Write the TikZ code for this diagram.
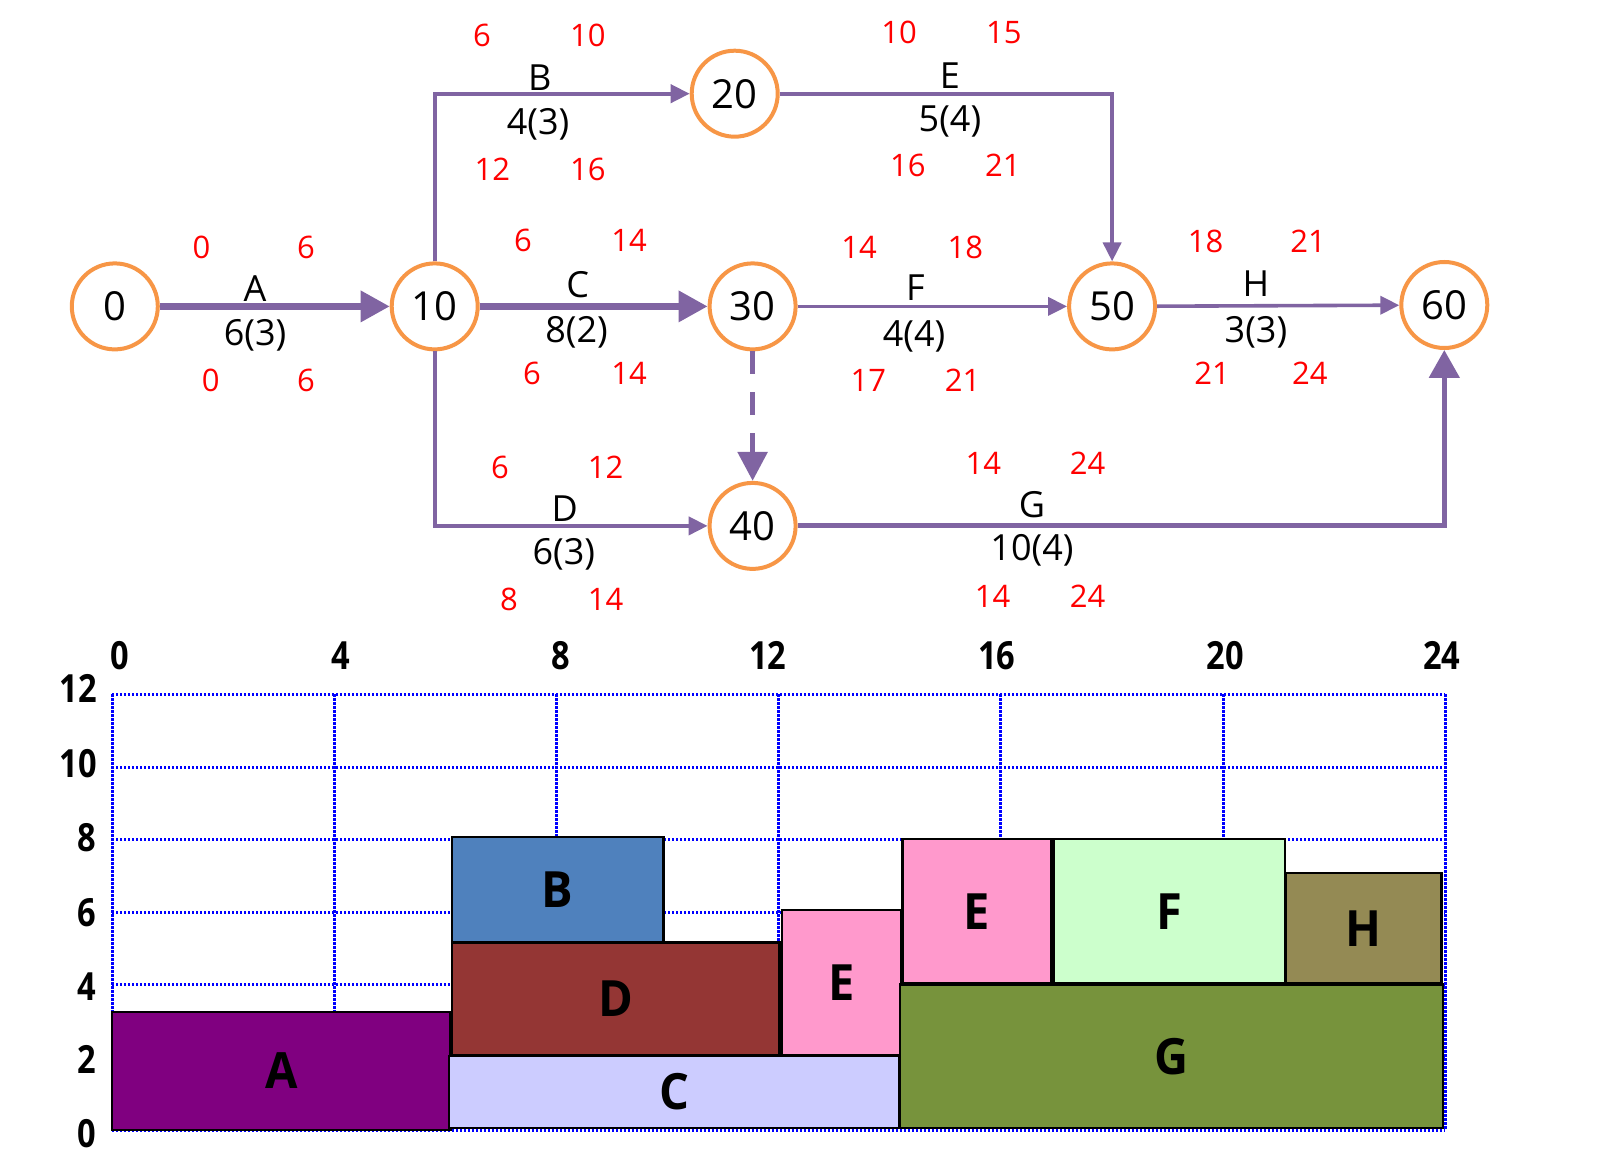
\documentclass[tikz,border=0pt]{standalone}
\usepackage{fontspec}
\setmainfont{Open Sans}
\newfontfamily\condbold[FakeStretch=0.84]{Open Sans}
\newfontfamily\barbold[FakeStretch=0.94]{Open Sans}
\usetikzlibrary{arrows.meta}
\definecolor{arrowpurple}{HTML}{8064A2}
\definecolor{evorange}{HTML}{F79646}
\definecolor{cA}{HTML}{800080}
\definecolor{cB}{HTML}{4F81BD}
\definecolor{cC}{HTML}{CCCCFF}
\definecolor{cD}{HTML}{943634}
\definecolor{cE}{HTML}{FF99CC}
\definecolor{cF}{HTML}{CCFFCC}
\definecolor{cG}{HTML}{77933C}
\definecolor{cH}{HTML}{948A54}
\begin{document}
\begin{tikzpicture}[x=0.5pt,y=-0.5pt,
  evt/.style={circle, draw=evorange, line width=2pt, minimum size=43pt, inner sep=0pt, fill=white, font=\fontsize{20}{24}\selectfont},
  rednum/.style={text=red, font=\fontsize{15.5}{18}\selectfont, anchor=base, inner sep=0pt},
  actlbl/.style={font=\fontsize{18}{21}\selectfont, anchor=base, inner sep=0pt},
  crit/.style={draw=arrowpurple, line width=3.25pt, -{Triangle[length=14.5pt,width=15pt]}},
  critg/.style={draw=arrowpurple, line width=2.5pt, -{Triangle[length=14pt,width=15pt]}},
  act/.style={draw=arrowpurple, line width=2pt, -{Triangle[length=9.5pt,width=9pt]}},
  actthin/.style={draw=arrowpurple, line width=1.8pt, -{Triangle[length=9.5pt,width=9pt]}},
  dummy/.style={draw=arrowpurple, line width=2.85pt, dash pattern=on 11.5pt off 9pt, -{Triangle[length=14.5pt,width=14.5pt]}},
  gridline/.style={draw=blue, line width=1.5pt, dash pattern=on 1.1pt off 0.9pt},
  bar/.style={draw=black, line width=1.25pt},
  barlbl/.style={font=\fontsize{25}{30}\barbold\bfseries, inner sep=0pt},
  axlbl/.style={font=\fontsize{19.4}{23}\condbold\bfseries, inner sep=0pt, anchor=base},
  axlbly/.style={font=\fontsize{19.4}{23}\condbold\bfseries, inner sep=0pt, anchor=base east}
]
\useasboundingbox (0,0) rectangle (1605,1176);

% ---------- network ----------
\node[evt] (n0)  at (114.8,306.4) {0};
\node[evt] (n10) at (434.7,306.4) {10};
\node[evt] (n20) at (734.7,93.7) {20};
\node[evt] (n30) at (752.6,306.4) {30};
\node[evt] (n40) at (752.6,525.9) {40};
\node[evt] (n50) at (1112.1,306.4) {50};
\node[evt] (n60) at (1444.3,305.0) {60};

\draw[crit] (n0) -- (n10);
\draw[act] (n10) |- (n20);
\draw[crit] (n10) -- (n30);
\draw[act] (n10) |- (n40);
\draw[dummy] (n30) -- (n40);
\draw[act] (n20) -| (n50);
\draw[actthin] (n30) -- (n50);
\draw[actthin] (n50) -- (n60);
\draw[critg] (n40) -| (n60);

% activity labels
\node[actlbl] (lA)  at (255,301.6) {A};
\node[actlbl] (dA)  at (255,346) {6(3)};
\node[actlbl] (lB)  at (539.8,90.1) {B};
\node[actlbl] (dB)  at (538,134.4) {4(3)};
\node[actlbl] (lC)  at (577.6,297.7) {C};
\node[actlbl] (dC)  at (576.5,342.4) {8(2)};
\node[actlbl] (lD)  at (564.8,521) {D};
\node[actlbl] (dD)  at (563.8,564.6) {6(3)};
\node[actlbl] (lE)  at (949.9,88.1) {E};
\node[actlbl] (dE)  at (949.9,131.6) {5(4)};
\node[actlbl] (lF)  at (915.5,300.9) {F};
\node[actlbl] (dF)  at (914,346.3) {4(4)};
\node[actlbl] (lH)  at (1255.9,296.9) {H};
\node[actlbl] (dH)  at (1255.9,342.4) {3(3)};
\node[actlbl] (lG)  at (1032,517.2) {G};
\node[actlbl] (dG)  at (1032,560.6) {10(4)};

% red time numbers
\node[rednum] (rA1) at (201.5,259) {0};
\node[rednum] (rA2) at (306,259) {6};
\node[rednum] (rA3) at (210.7,391.8) {0};
\node[rednum] (rA4) at (306,391.8) {6};
\node[rednum] (rB1) at (482,46.6) {6};
\node[rednum] (rB2) at (587.8,46.6) {10};
\node[rednum] (rB3) at (492.3,180.2) {12};
\node[rednum] (rB4) at (587.8,180.2) {16};
\node[rednum] (rC1) at (523,251.4) {6};
\node[rednum] (rC2) at (629,251.4) {14};
\node[rednum] (rC3) at (532,384.7) {6};
\node[rednum] (rC4) at (629,384.7) {14};
\node[rednum] (rD1) at (500,478.4) {6};
\node[rednum] (rD2) at (605.6,478.4) {12};
\node[rednum] (rD3) at (509,610) {8};
\node[rednum] (rD4) at (605.6,610) {14};
\node[rednum] (rE1) at (899,43.4) {10};
\node[rednum] (rE2) at (1003.8,43.4) {15};
\node[rednum] (rE3) at (907.8,176.3) {16};
\node[rednum] (rE4) at (1002.8,176.3) {21};
\node[rednum] (rF1) at (859,259) {14};
\node[rednum] (rF2) at (965.3,259) {18};
\node[rednum] (rF3) at (868.3,391.8) {17};
\node[rednum] (rF4) at (962.7,391.8) {21};
\node[rednum] (rH1) at (1205.5,252.2) {18};
\node[rednum] (rH2) at (1308.2,252.2) {21};
\node[rednum] (rH3) at (1212.2,384.7) {21};
\node[rednum] (rH4) at (1309.8,384.7) {24};
\node[rednum] (rG1) at (983.3,474.4) {14};
\node[rednum] (rG2) at (1087.5,474.4) {24};
\node[rednum] (rG3) at (992.5,607.3) {14};
\node[rednum] (rG4) at (1087.5,607.3) {24};

% ---------- resource chart ----------
\foreach \i in {0,...,6} {
  \draw[gridline] (112.2,{1130-72.6*\i}) -- (1445.3,{1130-72.6*\i});
  \draw[gridline] ({112.2+222.18*\i},694.4) -- ({112.2+222.18*\i},1130);
}

% axis labels
\node[axlbl] (x0)  at (119.9,669.4) {0};
\node[axlbl] (x4)  at (340.8,669.4) {4};
\node[axlbl] (x8)  at (561.2,669.4) {8};
\node[axlbl] (x12) at (767.9,669.4) {12};
\node[axlbl] (x16) at (996.6,669.4) {16};
\node[axlbl] (x20) at (1225,669.4) {20};
\node[axlbl] (x24) at (1441.7,669.4) {24};
\node[axlbly] (y12) at (97,702.9) {12};
\node[axlbly] (y10) at (97,777.5) {10};
\node[axlbly] (y8)  at (97,851.9) {8};
\node[axlbly] (y6)  at (97,926.5) {6};
\node[axlbly] (y4)  at (97,1000.9) {4};
\node[axlbly] (y2)  at (97,1073.6) {2};
\node[axlbly] (y0)  at (97,1147.9) {0};

% bars
\draw[bar, fill=cA] (112.2,1011.8) rectangle (450.5,1130);
\draw[bar, fill=cB] (452,837) rectangle (663.3,942.7);
\draw[bar, fill=cD] (452,942.7) rectangle (779.6,1055);
\draw[bar, fill=cC] (449,1056.2) rectangle (899,1127.8);
\draw[bar, fill=cE] (782,910) rectangle (901.6,1055.5);
\draw[bar, fill=cE] (902.7,838.8) rectangle (1051.5,983.5);
\draw[bar, fill=cF] (1053.6,838.8) rectangle (1285.1,983.5);
\draw[bar, fill=cH] (1285.6,872.8) rectangle (1441.7,983.5);
\draw[bar, fill=cG] (900.1,984.5) rectangle (1443.2,1127.8);

\node[barlbl] (bA)  at (281.4,1070.9) {A};
\node[barlbl] (bB)  at (557.7,889.9) {B};
\node[barlbl] (bD)  at (615.8,998.9) {D};
\node[barlbl] (bC)  at (674,1092) {C};
\node[barlbl] (bE1) at (841.8,982.8) {E};
\node[barlbl] (bE2) at (977.1,911.2) {E};
\node[barlbl] (bF)  at (1169.4,911.2) {F};
\node[barlbl] (bH)  at (1363.7,928.2) {H};
\node[barlbl] (bG)  at (1171.7,1056.2) {G};

\end{tikzpicture}
\end{document}
